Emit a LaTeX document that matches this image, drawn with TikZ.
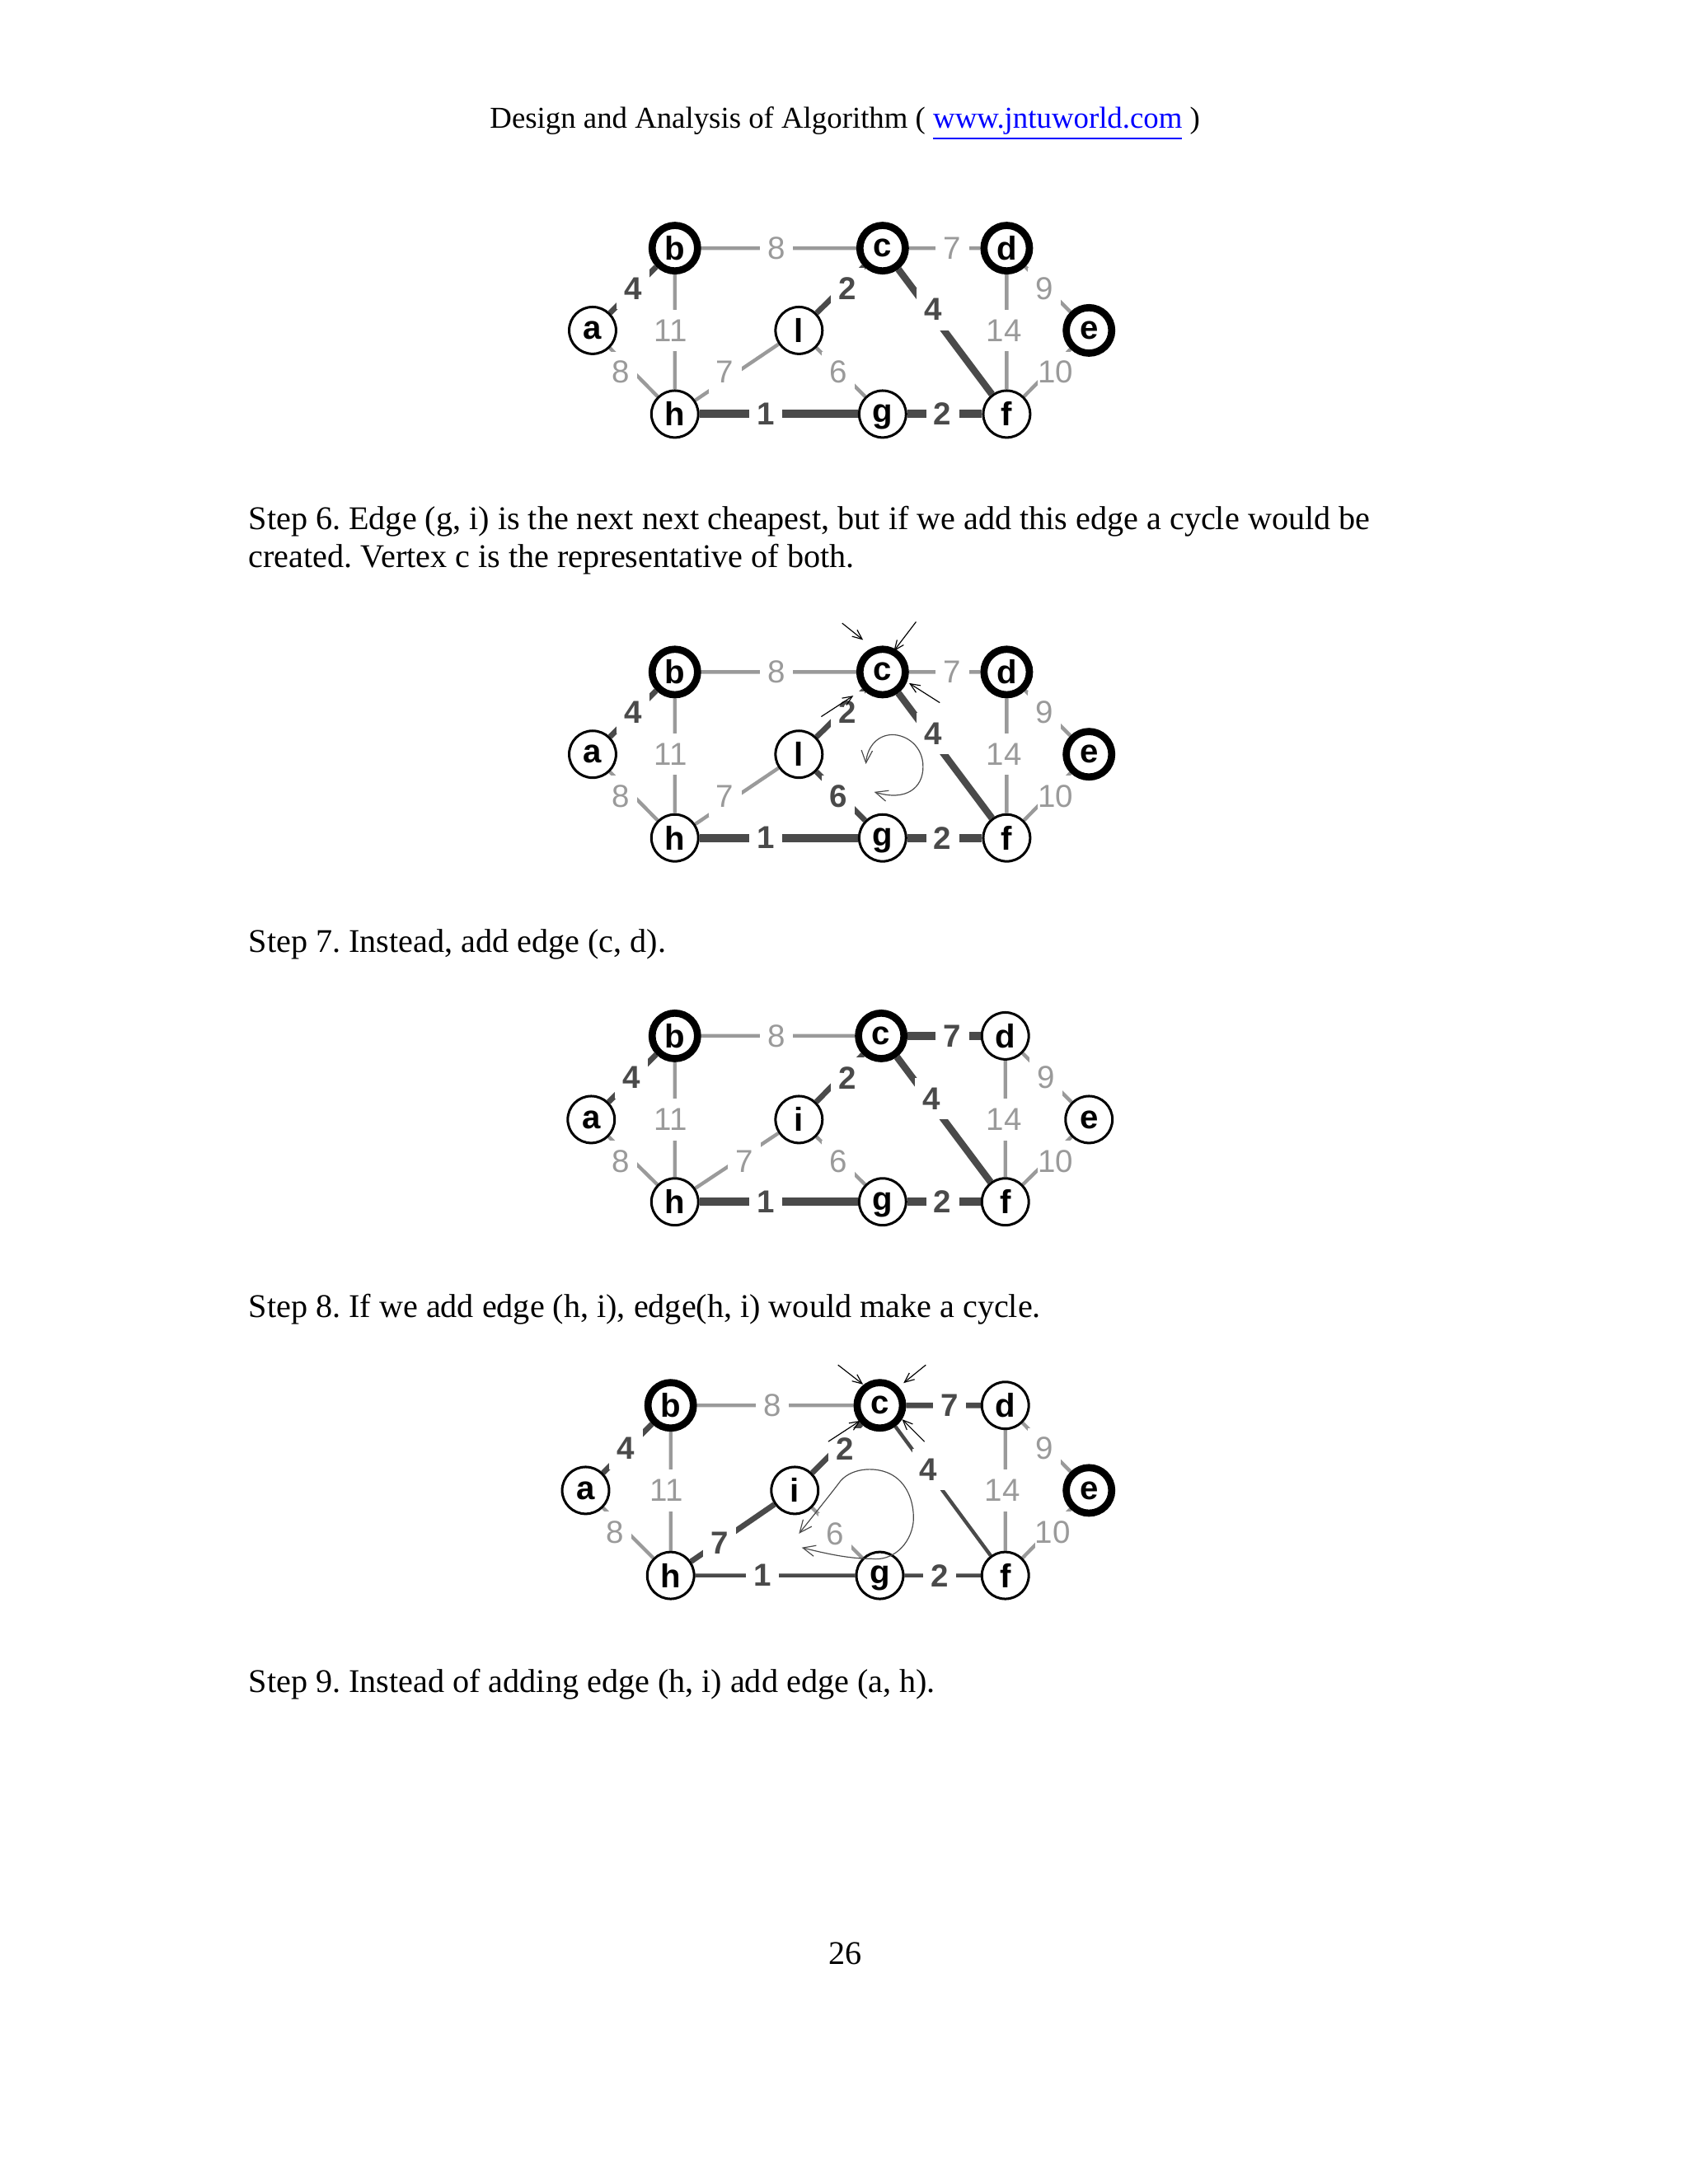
\documentclass[tikz,border=0pt]{standalone}
\usepackage{fontspec}
\setmainfont{Liberation Serif}
\setsansfont{Liberation Sans}
\usetikzlibrary{arrows.meta}
\pgfdeclarelayer{under}
\pgfsetlayers{under,main}
\definecolor{lightw}{HTML}{9A9A9A}
\definecolor{darkw}{HTML}{4A4A4A}
\newcommand{\lowg}{\raisebox{-1.5bp}[5bp][2bp]{g}}
\tikzset{
  vx/.style={circle,draw=black,fill=white,line width=0.9bp,minimum size=17bp,inner sep=0pt,font=\sffamily\bfseries\fontsize{12bp}{12bp}\selectfont,text=black},
  vxh/.style={vx,line width=2.6bp,minimum size=16.5bp},
  wl/.style={fill=white,inner sep=0pt,minimum width=12bp,minimum height=15bp,text=lightw,font=\sffamily\fontsize{11.5bp}{11.5bp}\selectfont},
  wd/.style={wl,text=darkw,font=\sffamily\bfseries\fontsize{11.5bp}{11.5bp}\selectfont},
  el/.style={draw=lightw,line width=1.3bp},
  ed/.style={draw=darkw,line width=2bp},
  edh/.style={draw=darkw,line width=3bp},
  edt/.style={draw=darkw,line width=1.3bp},
  para/.style={inner sep=0pt,anchor=base west,font=\frenchspacing\fontsize{12bp}{14bp}\selectfont},
  ptr/.style={draw=black,line width=0.35bp,-{Straight Barb[length=3.5bp,width=3bp]}},
  loopc/.style={draw=darkw,line width=0.35bp,{Straight Barb[length=4.5bp,width=4bp]}-{Straight Barb[length=4.5bp,width=4bp]}}
}
\begin{document}
\begin{tikzpicture}[x=0.50556bp,y=-0.50556bp]
\useasboundingbox (0,0) rectangle (1210.5,1566.5);
\begin{pgfonlayer}{under}
\fill[white] (0,0) rectangle (1210.5,1566.5);
\end{pgfonlayer}

% page text
\node[para,anchor=base,font=\frenchspacing\fontsize{11bp}{13bp}\selectfont] (head) at (606,92) {Design and Analysis of Algorithm ( \textcolor{blue}{\underline{www.jntuworld.com}} )};
\node[para] (s6a) at (178,380) {Step 6. Edge (g, i) is the next next cheapest, but if we add this edge a cycle would be};
\node[para] (s6b) at (178,407) {created. Vertex c is the representative of both.};
\node[para] (s7) at (178,683) {Step 7. Instead, add edge (c, d).};
\node[para] (s8) at (178,945) {Step 8. If we add edge (h, i), edge(h, i) would make a cycle.};
\node[para] (s9) at (178,1214) {Step 9. Instead of adding edge (h, i) add edge (a, h).};
\node[para,anchor=base] (pg) at (606,1409) {26};

% ---------- graph 1
\node[vx]  (a1) at (425,237) {a};
\node[vxh] (b1) at (484,178) {b};
\node[vxh] (c1) at (633,178) {c};
\node[vxh] (d1) at (722,178) {d};
\node[vxh] (e1) at (781,237) {e};
\node[vx]  (i1) at (573,237) {l};
\node[vx]  (h1) at (484,297) {h};
\node[vx]  (g1) at (633,297) {\lowg};
\node[vx]  (f1) at (722,297) {f};
\begin{pgfonlayer}{under}
\path[el] (b1)--(c1) (c1)--(d1) (b1)--(h1) (d1)--(f1) (a1)--(h1) (d1)--(e1) (e1)--(f1) (h1)--(i1) (i1)--(g1);
\path[ed] (a1)--(b1) (i1)--(c1);
\path[draw=darkw,line width=2.5bp] (c1)--(f1);
\path[edh] (h1)--(g1) (g1)--(f1);
\node[wl] at (557,178) {8};
\node[wl] at (683,178) {7};
\node[wd] at (454,207) {4};
\node[wl] at (481,237) {11};
\node[wl] at (445,267) {8};
\node[wd] at (608,207) {2};
\node[wl] at (520,267) {7};
\node[wl] at (601,267) {6};
\node[wd] at (669,222) {4};
\node[wl] at (720,237) {14};
\node[wl] at (749,207) {9};
\node[wl] at (757,267) {10};
\node[wd] at (549,297) {1};
\node[wd] at (676,297) {2};
\end{pgfonlayer}

% ---------- graph 2
\node[vx]  (a2) at (425,541) {a};
\node[vxh] (b2) at (484,482) {b};
\node[vxh] (c2) at (633,482) {c};
\node[vxh] (d2) at (722,482) {d};
\node[vxh] (e2) at (781,541) {e};
\node[vx]  (i2) at (573,541) {l};
\node[vx]  (h2) at (484,601) {h};
\node[vx]  (g2) at (633,601) {\lowg};
\node[vx]  (f2) at (722,601) {f};
\begin{pgfonlayer}{under}
\path[el] (b2)--(c2) (c2)--(d2) (b2)--(h2) (d2)--(f2) (a2)--(h2) (d2)--(e2) (e2)--(f2) (h2)--(i2);
\path[ed] (a2)--(b2) (i2)--(c2) (i2)--(g2);
\path[draw=darkw,line width=2.5bp] (c2)--(f2);
\path[edh] (h2)--(g2) (g2)--(f2);
\node[wl] at (557,482) {8};
\node[wl] at (683,482) {7};
\node[wd] at (454,511) {4};
\node[wl] at (481,541) {11};
\node[wl] at (445,571) {8};
\node[wd] at (608,511) {2};
\node[wl] at (520,571) {7};
\node[wd] at (601,571) {6};
\node[wd] at (669,526) {4};
\node[wl] at (720,541) {14};
\node[wl] at (749,511) {9};
\node[wl] at (757,571) {10};
\node[wd] at (549,601) {1};
\node[wd] at (676,601) {2};
\end{pgfonlayer}
\coordinate (p2a) at (604,447); \coordinate (q2a) at (619,459);
\coordinate (p2b) at (657,446); \coordinate (q2b) at (641,467);
\coordinate (p2c) at (674,504); \coordinate (q2c) at (652,490);
\coordinate (p2d) at (589,514); \coordinate (q2d) at (612,499);
\draw[ptr] (p2a)--(q2a);
\draw[ptr] (p2b)--(q2b);
\draw[ptr] (p2c)--(q2c);
\draw[ptr] (p2d)--(q2d);
\draw[loopc] (627,568) .. controls (650,575) and (662,565) .. (662,550) .. controls (662,535) and (650,527) .. (640,527) .. controls (630,527) and (622,535) .. (621,548);

% ---------- graph 3
\node[vx]  (a3) at (424,803) {a};
\node[vxh] (b3) at (484,743) {b};
\node[vxh] (c3) at (632,743) {c};
\node[vx]  (d3) at (721,743) {d};
\node[vx]  (e3) at (781,803) {e};
\node[vx]  (i3) at (573,803) {i};
\node[vx]  (h3) at (484,862) {h};
\node[vx]  (g3) at (633,862) {\lowg};
\node[vx]  (f3) at (721,862) {f};
\begin{pgfonlayer}{under}
\path[el] (b3)--(c3) (b3)--(h3) (d3)--(f3) (a3)--(h3) (d3)--(e3) (e3)--(f3) (h3)--(i3) (i3)--(g3);
\path[ed] (a3)--(b3) (i3)--(c3);
\path[draw=darkw,line width=2.5bp] (c3)--(f3);
\path[edh] (c3)--(d3) (h3)--(g3) (g3)--(f3);
\node[wl] at (557,743) {8};
\node[wd] at (683,743) {7};
\node[wd] at (453,773) {4};
\node[wl] at (481,803) {11};
\node[wl] at (445,833) {8};
\node[wd] at (608,773) {2};
\node[wl] at (534,833) {7};
\node[wl] at (601,833) {6};
\node[wd] at (668,788) {4};
\node[wl] at (720,803) {14};
\node[wl] at (750,773) {9};
\node[wl] at (757,833) {10};
\node[wd] at (549,862) {1};
\node[wd] at (676,862) {2};
\end{pgfonlayer}

% ---------- graph 4
\node[vx]  (a4) at (420,1069) {a};
\node[vxh] (b4) at (481,1008) {b};
\node[vxh] (c4) at (631,1008) {c};
\node[vx]  (d4) at (721,1008) {d};
\node[vxh] (e4) at (781,1069) {e};
\node[vx]  (i4) at (570,1069) {i};
\node[vx]  (h4) at (481,1130) {h};
\node[vx]  (g4) at (631,1130) {\lowg};
\node[vx]  (f4) at (721,1130) {f};
\begin{pgfonlayer}{under}
\path[el] (b4)--(c4) (b4)--(h4) (d4)--(f4) (a4)--(h4) (d4)--(e4) (e4)--(f4) (i4)--(g4);
\path[ed] (a4)--(b4) (i4)--(c4) (c4)--(d4) (h4)--(i4);
\path[edt] (c4)--(f4) (h4)--(g4) (g4)--(f4);
\node[wl] at (554,1008) {8};
\node[wd] at (681,1008) {7};
\node[wd] at (449,1039) {4};
\node[wl] at (478,1069) {11};
\node[wl] at (441,1099) {8};
\node[wd] at (606,1039) {2};
\node[wd] at (516,1107) {7};
\node[wl] at (599,1100) {6};
\node[wd] at (666,1054) {4};
\node[wl] at (719,1069) {14};
\node[wl] at (749,1039) {9};
\node[wl] at (755,1099) {10};
\node[wd] at (547,1130) {1};
\node[wd] at (674,1130) {2};
\end{pgfonlayer}
\coordinate (p4a) at (601,979); \coordinate (q4a) at (619,993);
\coordinate (p4b) at (664,979); \coordinate (q4b) at (648,992);
\coordinate (p4c) at (594,1034); \coordinate (q4c) at (617,1019);
\coordinate (p4d) at (663,1034); \coordinate (q4d) at (647,1018);
\draw[ptr] (p4a)--(q4a);
\draw[ptr] (p4b)--(q4b);
\draw[ptr] (p4c)--(q4c);
\draw[ptr] (p4d)--(q4d);
\draw[loopc] (573,1100) .. controls (585,1085) and (597,1070) .. (603,1062) .. controls (612,1052) and (630,1052) .. (640,1058) .. controls (652,1065) and (656,1080) .. (655,1092) .. controls (653,1108) and (640,1120) .. (625,1118) .. controls (610,1118) and (595,1115) .. (575,1110);
\end{tikzpicture}
\end{document}
